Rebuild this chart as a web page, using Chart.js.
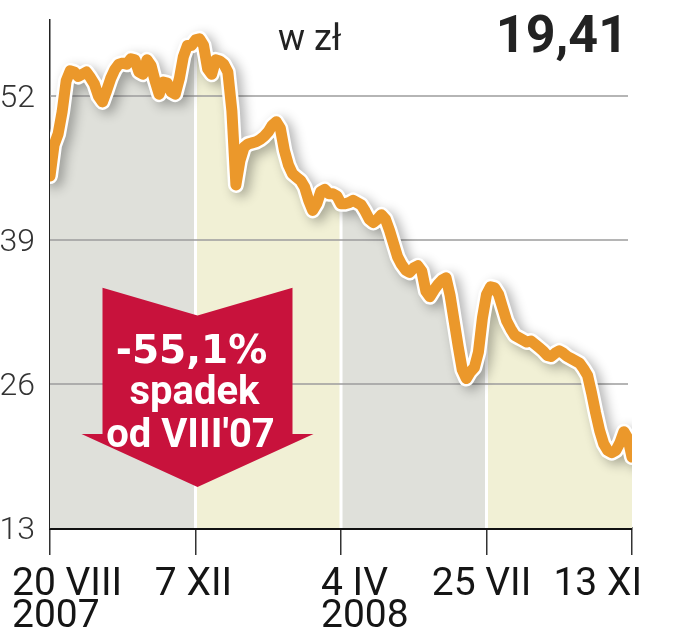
<!DOCTYPE html>
<html>
<head>
<meta charset="utf-8">
<script src="https://cdn.jsdelivr.net/npm/chart.js@4.4.1/dist/chart.umd.min.js"></script>
<style>
  html, body { margin: 0; padding: 0; background: #fff; }
  #wrap { width: 680px; height: 640px; position: relative; }
</style>
</head>
<body>
<div id="wrap"><canvas id="priceChart"></canvas></div>
<script>
// closing prices, one step per ~2 trading days, 20 VIII 2007 .. 13 XI 2008
const prices = [
  44.8, 47.6, 48.6, 50.6, 53.4, 54.3, 54.2, 53.8, 54.0, 54.2,
  53.7, 53.1, 52.0, 51.5, 52.5, 53.6, 54.4, 54.9, 55.0, 54.9,
  55.4, 55.3, 54.2, 54.0, 55.3, 54.8, 53.4, 52.2, 53.3, 53.2,
  52.4, 52.2, 53.6, 55.6, 56.6, 56.6, 57.1, 57.2, 56.6, 54.5,
  54.0, 55.3, 55.2, 54.9, 54.2, 50.7, 44.0, 46.2, 47.4, 47.7,
  47.8, 47.9, 48.1, 48.4, 48.8, 49.4, 49.7, 49.1, 47.1, 45.8,
  45.0, 44.7, 44.4, 43.8, 42.6, 41.7, 42.3, 43.4, 43.6, 43.2,
  43.2, 43.0, 42.3, 42.3, 42.4, 42.6, 42.4, 42.2, 41.6, 40.9,
  40.6, 40.9, 41.3, 40.9, 39.9, 38.7, 37.5, 36.8, 36.3, 36.1,
  36.5, 36.7, 36.2, 34.4, 33.9, 34.5, 35.0, 35.4, 35.6, 34.0,
  31.7, 29.4, 27.3, 26.5, 27.1, 27.5, 28.9, 32.0, 34.1, 34.8,
  34.7, 34.1, 32.9, 31.7, 31.0, 30.4, 30.2, 30.0, 29.8, 29.9,
  29.6, 29.3, 29.0, 28.6, 28.5, 28.8, 29.0, 28.8, 28.5, 28.3,
  28.1, 27.9, 27.4, 26.8, 25.2, 23.4, 21.8, 20.6, 20.0, 19.8,
  20.0, 20.7, 21.7, 21.1, 19.41
];
const tickIndex = [0, 36, 72, 108, 144];
const tickLabels = [['20 VIII', '2007'], ['7 XII'], ['4 IV', '2008'], ['25 VII'], ['13 XI']];
const yTicks = [13, 26, 39, 52];
const unitLabel = 'w zł';
const lastPrice = '19,41';
const arrowLines = ['-55,1%', 'spadek', "od VIII'07"];

const ORANGE = '#eb982b';
const GRID = '#9c9c9c';
const RED = '#c8123c';
const bandColors = ['#dfe0da', '#f1f0d5'];
const labelAlign = ['left', 'center', 'left', 'center', 'right'];
const labelShift = [-38, -2, -20, -5, 10];

function bandOf(i) {
    let k = 0;
    while (k < tickIndex.length - 2 && i >= tickIndex[k + 1]) k++;
    return k;
}

const points = prices.map((v, i) => ({ x: i, y: v }));

const decor = {
    id: 'decor',
    beforeDatasetDraw(chart, args) {
        if (args.index !== 1) return;
        const ctx = chart.ctx;
        ctx.save();
        ctx.shadowColor = 'rgba(0,0,0,0.3)';
        ctx.shadowBlur = 12;
        ctx.shadowOffsetX = 5;
        ctx.shadowOffsetY = 4;
    },
    afterDatasetDraw(chart, args) {
        const { ctx, chartArea, scales: { x, y } } = chart;
        if (args.index === 1) {
            ctx.restore();
            return;
        }
        if (args.index !== 2) return;
        ctx.save();
        // white gaps between the period bands
        ctx.strokeStyle = '#fff';
        ctx.lineWidth = 3;
        tickIndex.slice(1, -1).forEach(i => {
            const px = x.getPixelForValue(i);
            ctx.beginPath();
            ctx.moveTo(px, chartArea.bottom);
            ctx.lineTo(px, y.getPixelForValue(prices[i]));
            ctx.stroke();
        });
        // horizontal grid over the fill
        ctx.strokeStyle = GRID;
        ctx.lineWidth = 1.5;
        yTicks.slice(1).forEach(v => {
            const py = Math.round(y.getPixelForValue(v));
            ctx.beginPath();
            ctx.moveTo(chartArea.left, py);
            ctx.lineTo(chartArea.right - 4, py);
            ctx.stroke();
        });
        ctx.restore();
    },
    afterDatasetsDraw(chart) {
        const { ctx, scales: { x, y } } = chart;
        const cx = x.getPixelForValue(tickIndex[1]) + 2;
        const top = y.getPixelForValue(34.7);
        const notch = y.getPixelForValue(32.2);
        const head = y.getPixelForValue(21.5);
        const tip = y.getPixelForValue(16.7);
        ctx.save();
        ctx.fillStyle = RED;
        ctx.beginPath();
        ctx.moveTo(cx - 95, top);
        ctx.lineTo(cx, notch);
        ctx.lineTo(cx + 95, top);
        ctx.lineTo(cx + 95, head);
        ctx.lineTo(cx + 116, head);
        ctx.lineTo(cx, tip);
        ctx.lineTo(cx - 116, head);
        ctx.lineTo(cx - 95, head);
        ctx.closePath();
        ctx.fill();

        ctx.fillStyle = '#fff';
        ctx.textAlign = 'center';
        ctx.textBaseline = 'alphabetic';
        ctx.font = 'bold 39px "DejaVu Sans"';
        ctx.fillText(arrowLines[0], cx - 6, top + 75);
        ctx.font = 'bold 40px Roboto';
        ctx.fillText(arrowLines[1], cx - 3, top + 116);
        ctx.fillText(arrowLines[2], cx - 7, top + 159);
        ctx.restore();
    },
    afterDraw(chart) {
        const { ctx, chartArea, scales: { x } } = chart;
        ctx.save();
        ctx.fillStyle = '#151515';
        ctx.textBaseline = 'alphabetic';
        ctx.font = '39px Roboto';
        tickIndex.forEach((idx, k) => {
            const px = x.getPixelForValue(idx) + labelShift[k];
            ctx.textAlign = labelAlign[k];
            tickLabels[k].forEach((line, j) => {
                ctx.fillText(line, px, chartArea.bottom + 67 + j * 32);
            });
        });

        ctx.fillStyle = '#222';
        ctx.textAlign = 'left';
        ctx.font = '36px Roboto';
        ctx.fillText(unitLabel, 278, 50);
        ctx.textAlign = 'right';
        ctx.font = 'bold 52px Roboto';
        ctx.fillText(lastPrice, 628, 52);
        ctx.restore();
    }
};

Chart.defaults.font.family = 'Roboto';

new Chart(document.getElementById('priceChart'), {
    type: 'line',
    data: {
        datasets: [{
            data: points,
            borderColor: ORANGE,
            borderWidth: 11,
            borderJoinStyle: 'round',
            borderCapStyle: 'round',
            pointRadius: 0,
            fill: false,
            tension: 0
        }, {
            data: points,
            borderColor: '#fff',
            borderWidth: 16,
            borderJoinStyle: 'round',
            borderCapStyle: 'round',
            pointRadius: 0,
            fill: false,
            tension: 0
        }, {
            data: points,
            borderWidth: 0,
            pointRadius: 0,
            fill: 'start',
            backgroundColor: bandColors[0],
            segment: {
                backgroundColor: c => bandColors[bandOf(c.p0DataIndex) % 2]
            },
            tension: 0
        }]
    },
    options: {
        responsive: true,
        maintainAspectRatio: false,
        animation: false,
        layout: { padding: { top: 20, right: 48, left: 0, bottom: 0 } },
        plugins: {
            legend: { display: false },
            tooltip: { enabled: false }
        },
        scales: {
            x: {
                type: 'linear',
                min: tickIndex[0],
                max: tickIndex[tickIndex.length - 1],
                z: 1,
                afterBuildTicks: axis => { axis.ticks = tickIndex.map(v => ({ value: v })); },
                afterFit: axis => { axis.height = 112; axis.paddingLeft = 0; axis.paddingRight = 0; },
                ticks: { display: false },
                grid: {
                    drawOnChartArea: false,
                    drawTicks: true,
                    tickLength: 27,
                    color: '#333',
                    lineWidth: 1.5
                },
                border: { color: '#111', width: 3 }
            },
            y: {
                min: 13,
                max: 58.9,
                z: 1,
                afterBuildTicks: axis => { axis.ticks = yTicks.map(v => ({ value: v })); },
                afterFit: axis => { axis.width = 50; axis.paddingTop = 0; axis.paddingBottom = 0; },
                ticks: {
                    padding: 15,
                    labelOffset: 3,
                    color: '#333',
                    font: { size: 32, weight: 300 }
                },
                grid: { drawOnChartArea: false, drawTicks: false },
                border: { color: '#222', width: 1.5 }
            }
        }
    },
    plugins: [decor]
});
</script>
</body>
</html>
